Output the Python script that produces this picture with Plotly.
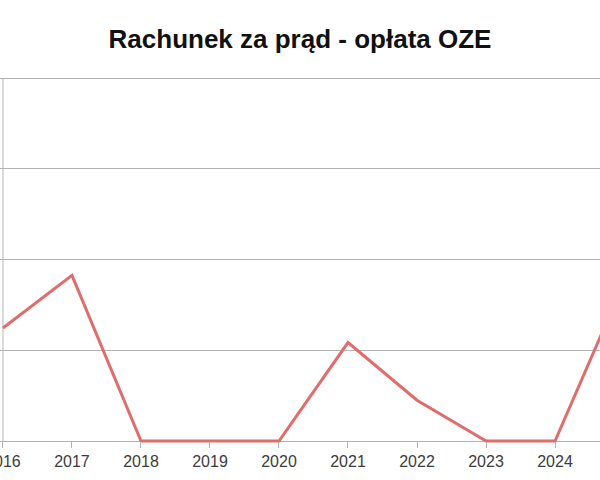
import plotly.graph_objects as go

years = [2016, 2017, 2018, 2019, 2020, 2021, 2022, 2023, 2024, 2025]
oze_fee = [2.49, 3.65, 0.00, 0.00, 0.00, 2.17, 0.90, 0.00, 0.00, 3.50]
y_ticks = [0, 2, 4, 6, 8]

grid_col = "#b3b3b3"

fig = go.Figure()
fig.add_trace(go.Scatter(
    x=years, y=oze_fee, mode="lines",
    line=dict(color="#e06c6c", width=3),
    hoverinfo="x+y", showlegend=False,
))

fig.add_shape(type="line", xref="x", yref="y",
              x0=years[0], x1=years[0], y0=y_ticks[0], y1=y_ticks[-1],
              line=dict(color=grid_col, width=1), layer="below")

fig.update_layout(
    width=600, height=480,
    margin=dict(l=0, r=0, t=76, b=35, autoexpand=False),
    paper_bgcolor="white", plot_bgcolor="white",
    title=dict(text="<b>Rachunek za prąd - opłata OZE</b>",
               x=0.5, xanchor="center", y=1 - 39/480, yanchor="middle",
               font=dict(family="Liberation Sans", size=26, color="#111111")),
    xaxis=dict(range=[2015.957, 2024.652], tickmode="array", tickvals=years,
               ticktext=[str(y) for y in years],
               anchor="free", position=4/369, automargin=False,
               showgrid=False, zeroline=False, showline=False,
               ticks="outside", ticklen=6, tickcolor=grid_col,
               ticklabeloverflow="allow",
               tickfont=dict(family="Liberation Sans", size=16, color="#3c3c3c")),
    yaxis=dict(range=[-0.088, 8.044], tickmode="array", tickvals=y_ticks,
               showticklabels=False, showgrid=True, gridcolor=grid_col, gridwidth=1,
               zeroline=True, zerolinecolor=grid_col, zerolinewidth=1,
               showline=False, ticks="", automargin=False),
)

fig.write_html("out.html")
